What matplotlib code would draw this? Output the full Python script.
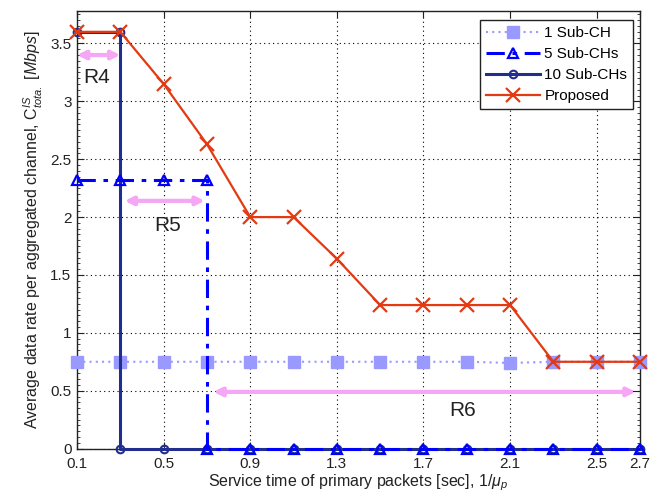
import matplotlib
matplotlib.use("Agg")
import matplotlib.pyplot as plt
from matplotlib.ticker import MultipleLocator

# ---- data ----
x = [0.1, 0.3, 0.5, 0.7, 0.9, 1.1, 1.3, 1.5, 1.7, 1.9, 2.1, 2.3, 2.5, 2.7]
one_sub = [0.75, 0.75, 0.75, 0.75, 0.75, 0.75, 0.75, 0.75, 0.75, 0.75, 0.74, 0.75, 0.75, 0.75]
proposed = [3.6, 3.6, 3.15, 2.63, 2.0, 2.0, 1.64, 1.24, 1.24, 1.24, 1.24, 0.75, 0.75, 0.75]
# 5 Sub-CHs: drops to 0 at 0.7 (vertical step)
x5 = [0.1, 0.3, 0.5, 0.7, 0.7, 0.9, 1.1, 1.3, 1.5, 1.7, 1.9, 2.1, 2.3, 2.5, 2.7]
five_sub = [2.32, 2.32, 2.32, 2.32, 0, 0, 0, 0, 0, 0, 0, 0, 0, 0, 0]
# 10 Sub-CHs: drops to 0 at 0.3 (vertical step)
x10 = [0.1, 0.3, 0.3, 0.5, 0.7, 0.9, 1.1, 1.3, 1.5, 1.7, 1.9, 2.1, 2.3, 2.5, 2.7]
ten_sub = [3.6, 3.6, 0, 0, 0, 0, 0, 0, 0, 0, 0, 0, 0, 0, 0]
xticks = [0.1, 0.5, 0.9, 1.3, 1.7, 2.1, 2.5, 2.7]
xticklabels = ["0.1", "0.5", "0.9", "1.3", "1.7", "2.1", "2.5", "2.7"]
yticks = [0, 0.5, 1, 1.5, 2, 2.5, 3, 3.5]
yticklabels = ["0", "0.5", "1", "1.5", "2", "2.5", "3", "3.5"]
labels = ["1 Sub-CH", "5 Sub-CHs", "10 Sub-CHs", "Proposed"]
# annotation regions: (name, x_start, x_end, arrow_y, text_x, text_y)
regions = [("R4", 0.1, 0.3, 3.40, 0.19, 3.21),
           ("R5", 0.32, 0.69, 2.14, 0.52, 1.93),
           ("R6", 0.73, 2.68, 0.49, 1.88, 0.33)]

plt.rcParams['font.family'] = ['Liberation Sans', 'DejaVu Sans']
plt.rcParams['mathtext.fontset'] = 'custom'
plt.rcParams['mathtext.rm'] = 'Liberation Sans'
plt.rcParams['mathtext.it'] = 'Liberation Sans:italic'

fig = plt.figure(figsize=(6.72, 5.01), dpi=100)
ax = fig.add_axes([0.1146, 0.1046, 0.8378, 0.8734])

l1, = ax.plot(x, one_sub, linestyle=(0, (1, 2)), color='#9999ff', lw=1.5,
              marker='s', ms=8, mfc='#9999ff', mec='#9999ff', clip_on=False, zorder=3)
l3, = ax.plot(x10, ten_sub, '-', color='#1f2e8f', lw=2.2,
              marker='o', ms=5.5, mfc='none', mec='#1f2e8f', mew=1.5, clip_on=False, zorder=4)
l2, = ax.plot(x5, five_sub, linestyle=(0, (6, 2.5, 1.5, 2.5)), color='#0000ff', lw=2.2,
              marker='^', ms=7, mfc='none', mec='#0000ff', mew=1.6, clip_on=False, zorder=5)
l4, = ax.plot(x, proposed, '-', color='#e33a12', lw=1.6,
              marker='x', ms=10, mew=1.6, clip_on=False, zorder=6)

for name, xs, xe, ay, tx, ty in regions:
    ax.annotate("", xy=(xe, ay), xytext=(xs, ay),
                arrowprops=dict(arrowstyle='<|-|>', color='#f5a6f5', lw=3,
                                mutation_scale=12, shrinkA=0, shrinkB=0), zorder=2)
    ax.text(tx, ty, name, fontsize=15, ha='center', va='center', color='#222222')

ax.set_xlim(0.1, 2.7)
ax.set_ylim(0, 3.78)
ax.set_xticks(xticks)
ax.set_xticklabels(xticklabels)
ax.set_yticks(yticks)
ax.set_yticklabels(yticklabels)
ax.yaxis.set_minor_locator(MultipleLocator(0.05))
ax.tick_params(which='both', direction='in', top=True, right=True, labelsize=11, colors='#222222')
ax.tick_params(which='major', length=5)
ax.tick_params(which='minor', length=2.5)
ax.tick_params(axis='x', pad=6)
ax.tick_params(axis='y', pad=4)
ax.grid(True, which='major', color='black', linestyle=(0, (1, 3)), lw=0.8)
for s in ax.spines.values():
    s.set_color('#222222')
    s.set_linewidth(1.0)

ax.set_xlabel(r"Service time of primary packets [sec], $\it{1/\mu_p}$", fontsize=11.5, color='#222222', labelpad=1)
ax.set_ylabel(r"Average data rate per aggregated channel, $\mathrm{C}^{IS}_{tota.}$ $\it{[Mbps]}$",
              fontsize=11.5, color='#222222', labelpad=4)

leg = ax.legend([l1, l2, l3, l4], labels, loc='upper right', bbox_to_anchor=(0.988, 0.979),
                fontsize=11, numpoints=1, handlelength=3.5, labelspacing=0.45,
                fancybox=False, framealpha=1, borderpad=0.4, handletextpad=0.3, borderaxespad=0)
leg.get_frame().set_edgecolor('#222222')
leg.get_frame().set_linewidth(1.0)

fig.savefig("out.png", dpi=100)
